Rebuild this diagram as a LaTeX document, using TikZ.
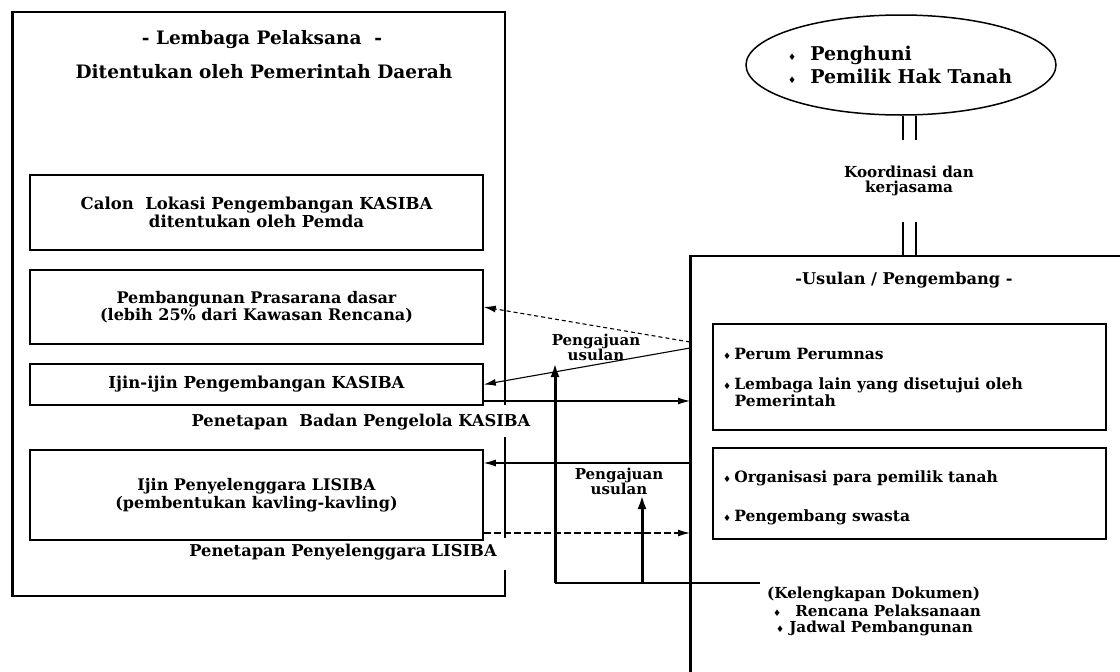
\documentclass[tikz,border=0pt]{standalone}
\usepackage{fontspec}
\setmainfont{DejaVu Serif}
\newfontfamily\symfont{DejaVu Sans}
\usetikzlibrary{arrows.meta,shapes.geometric}

% bold text at a given size and line distance
\newcommand{\fs}[2]{\fontsize{#1}{#2}\selectfont\bfseries}
\newcommand{\bul}{{\symfont\fontsize{9}{9}\selectfont ♦}}

\tikzset{
  box/.style={draw, line width=1.5pt, inner sep=0pt, align=center},
  txt/.style={inner sep=0pt, align=center},
  ltxt/.style={inner sep=0pt, align=left, anchor=west},
  arr/.style={line width=1.1pt, -{Latex[length=12pt,width=7pt]}},
  heavyarr/.style={line width=3pt, -{Latex[length=14pt,width=9pt]}},
  link/.style={line width=1.4pt},
  twin/.style={line width=2.2pt},
}

\begin{document}
\begin{tikzpicture}[x=1pt,y=-1pt]
\useasboundingbox (0,0) rectangle (1120,672);
\clip (0,0) rectangle (1120,672);
\fill[white] (0,0) rectangle (1120,672);

% ---- Lembaga Pelaksana frame (right edge broken for the two captions)
\draw[line width=1.5pt] (505,405) -- (505,12) -- (12,12);
\draw[line width=3pt] (12,11) -- (12,597);
\draw[line width=2pt] (12,596) -- (505,596) -- (505,570);
\draw[line width=2.2pt] (505,437) -- (505,538);

\node[txt, font=\fs{18.5}{20}] (t1) at (262,40) {- Lembaga Pelaksana\ \ -};
\node[txt, font=\fs{18.5}{20}] (t2) at (264,72) {Ditentukan oleh Pemerintah Daerah};

\node[box, minimum width=453pt, minimum height=75pt, font=\fs{16.5}{18}] (b1) at (256.5,212.5)
  {Calon\ \ Lokasi Pengembangan KASIBA\\ditentukan oleh Pemda};
\node[box, minimum width=453pt, minimum height=74pt, font=\fs{16}{14.5}] (b2) at (256.5,307)
  {Pembangunan Prasarana dasar\\(lebih 25\% dari Kawasan Rencana)};
\node[box, minimum width=453pt, minimum height=41pt, font=\fs{16.5}{18}] (b3) at (256.5,384.5)
  {Ijin-ijin Pengembangan KASIBA};
\node[txt, font=\fs{16.3}{18}] (pb) at (361,422) {Penetapan\ \ Badan Pengelola KASIBA};
\node[box, minimum width=453pt, minimum height=90pt, font=\fs{16}{18}] (b4) at (256.5,495)
  {Ijin Penyelenggara LISIBA\\(pembentukan kavling-kavling)};
\node[txt, font=\fs{16.3}{18}] (pl) at (343,552) {Penetapan Penyelenggara LISIBA};

% ---- owners / residents
\node[draw, ellipse, line width=1.5pt, minimum width=310pt, minimum height=100pt] (el) at (901,65) {};
\node[ltxt, font=\fs{19}{20}] (e1) at (788,55) {\bul\hspace{14pt}Penghuni};
\node[ltxt, font=\fs{19}{20}] (e2) at (788,76) {\bul\hspace{14pt}Pemilik Hak Tanah};

% ---- Usulan / Pengembang frame
\node[draw, line width=1.5pt, anchor=north west, minimum width=450pt, minimum height=440pt, inner sep=0pt] (ub) at (690,255) {};
\draw[line width=2.4pt] (ub.north west) -- (ub.south west);
\node[txt, font=\fs{16.2}{18}] (ut) at (904,280) {-Usulan / Pengembang -};

\node[box, minimum width=393pt, minimum height=106pt] (ba) at (909.5,377) {};
\node[ltxt, font=\fs{15.5}{14}] (a1) at (723,354) {\bul\hspace{3pt}Perum Perumnas};
\node[ltxt, font=\fs{15.5}{14}, anchor=north west] (a2) at (723,378)
  {\bul\hspace{3pt}Lembaga lain yang disetujui oleh\\\hspace*{11.5pt}Pemerintah};

\node[box, minimum width=393pt, minimum height=91pt] (bb) at (909.5,493.5) {};
\node[ltxt, font=\fs{15.5}{14}] (o1) at (723,478) {\bul\hspace{3pt}Organisasi para pemilik tanah};
\node[ltxt, font=\fs{15.5}{14}] (o2) at (723,517) {\bul\hspace{3pt}Pengembang swasta};

% ---- coordination link between owners and developers
\draw[twin] ([xshift=2pt]el.south) -- ([xshift=2pt]el.south |- ub.north);
\draw[twin] ([xshift=15pt]el.south) -- ([xshift=15pt]el.south |- ub.north);
\node[txt, fill=white, minimum width=60pt, minimum height=82pt, font=\fs{15.2}{14.5}] (kk) at (909,181)
  {Koordinasi dan\\kerjasama};

% ---- document list
\node[ltxt, font=\fs{15.2}{15}] (dk) at (767,594) {(Kelengkapan Dokumen)};
\node[ltxt, font=\fs{15.2}{15}] (dk1) at (773,611) {\bul\hspace{14pt}Rencana Pelaksanaan};
\node[ltxt, font=\fs{15.2}{15}] (dk2) at (776,628) {\bul\hspace{5pt}Jadwal Pembangunan};

% ---- proposal labels
\node[txt, font=\fs{15}{15}] (pu1) at (596,347) {Pengajuan\\usulan};
\node[txt, font=\fs{15}{15}] (pu2) at (619,481) {Pengajuan\\usulan};

% ---- connectors between the two sides
\coordinate (u1) at (ub.west |- 0,342);
\coordinate (u2) at (ub.west |- 0,348);
\coordinate (u3) at (ub.west |- 0,401);
\coordinate (u4) at (ub.west |- 0,463);
\coordinate (u5) at (ub.west |- 0,533);

\draw[arr, dashed, dash pattern=on 4pt off 3pt] (u1) -- (b2.east);
\draw[arr] (u2) -- (b3.east);
\draw[arr] (b3.east |- u3) -- (u3);
\draw[arr] (u4) -- (b4.east |- u4);
\draw[arr, dashed, dash pattern=on 7pt off 3pt] (b4.east |- u5) -- (u5);

% ---- document list feeding both proposals
\coordinate (c1) at (555,583);
\coordinate (c2) at (642,583);
\coordinate (c3) at (dk.west |- c1);
\draw[link] (c1) -- ([xshift=-7pt]c3);
\draw[heavyarr] (c1) -- (c1 |- 0,363);
\draw[heavyarr] (c2) -- (c2 |- 0,495);
\end{tikzpicture}
\end{document}
